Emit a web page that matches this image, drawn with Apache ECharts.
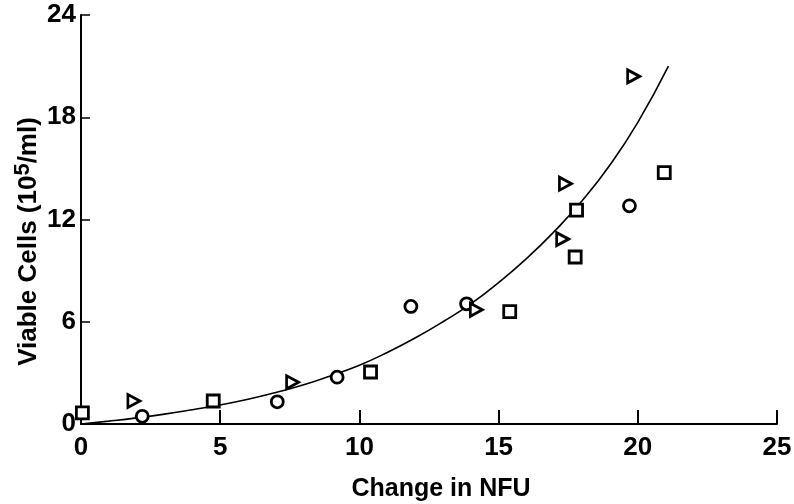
<!DOCTYPE html>
<html>
<head>
<meta charset="utf-8">
<script src="https://cdn.jsdelivr.net/npm/echarts@6/dist/echarts.min.js"></script>
<style>
  html, body { margin: 0; padding: 0; background: #fff; }
  #chart { width: 794px; height: 504px; }
</style>
</head>
<body>
<div id="chart"></div>
<script>
// Observations: three sample groups, viable cells vs change in NFU
const circleX = [2.2, 7.05, 9.2, 11.85, 13.85, 19.7];
const circleY = [0.45, 1.3, 2.75, 6.9, 7.05, 12.8];
const squareX = [0.05, 4.75, 10.4, 15.4, 17.75, 17.8, 20.95];
const squareY = [0.65, 1.35, 3.05, 6.6, 9.8, 12.55, 14.75];
const triX = [1.9, 7.6, 14.2, 17.3, 17.4, 19.85];
const triY = [1.35, 2.45, 6.7, 10.85, 14.1, 20.4];

// Fitted growth curve, read point by point
const fitX = [0, 1, 2, 3, 4, 5, 6, 7, 8, 9, 10, 11, 12, 13, 14, 15, 16, 17, 18, 19, 20, 21.1];
const fitY = [0, 0.17, 0.36, 0.58, 0.84, 1.12, 1.45, 1.85, 2.3, 2.85, 3.45, 4.2, 5.05, 6.0, 7.05, 8.3, 9.7, 11.3, 13.1, 15.2, 17.7, 21.0];

// Axis ticks
const xTicks = [0, 5, 10, 15, 20, 25];
const yTicks = [0, 6, 12, 18, 24];

const pair = (xs, ys) => xs.map((x, i) => [x, ys[i]]);
const FONT = '"Liberation Sans", Arial, sans-serif';

const markerStyle = { color: '#fff', borderColor: '#000', borderWidth: 2.8, opacity: 1 };

const chart = echarts.init(document.getElementById('chart'), null, { renderer: 'canvas' });
chart.setOption({
  backgroundColor: '#fff',
  animation: false,
  grid: { left: 81, right: 17, top: 15, bottom: 80, containLabel: false, outerBoundsMode: 'none' },
  xAxis: {
    type: 'value',
    min: xTicks[0], max: xTicks[xTicks.length - 1], interval: 5,
    name: 'Change in NFU',
    nameLocation: 'middle',
    nameGap: 53,
    nameTextStyle: { fontFamily: FONT, fontWeight: 'bold', fontSize: 25, color: '#000', padding: [0, 0, 0, 24] },
    axisLine: { lineStyle: { color: '#000', width: 2 } },
    axisTick: { inside: true, length: 14, lineStyle: { color: '#000', width: 2 } },
    axisLabel: { margin: 11, fontFamily: FONT, fontWeight: 'bold', fontSize: 26, color: '#000' },
    splitLine: { show: false }
  },
  yAxis: {
    type: 'value',
    min: yTicks[0], max: yTicks[yTicks.length - 1], interval: 6,
    name: 'Viable Cells (10{sup|5}/ml)',
    nameLocation: 'middle',
    nameMoveOverlap: false,
    nameGap: 35,
    nameRotate: 90,
    nameTextStyle: {
      fontFamily: FONT, fontWeight: 'bold', fontSize: 26, color: '#000',
      padding: [0, 44, 0, 0],
      rich: {
        sup: { fontFamily: FONT, fontWeight: 'bold', fontSize: 22, color: '#000', verticalAlign: 'bottom', padding: [0, 0, 12, 0] }
      }
    },
    axisLine: { lineStyle: { color: '#000', width: 2 } },
    axisTick: { inside: true, length: 9, lineStyle: { color: '#000', width: 1.5 } },
    axisLabel: { margin: 5, fontFamily: FONT, fontWeight: 'bold', fontSize: 26, color: '#000' },
    splitLine: { show: false }
  },
  series: [
    {
      type: 'line',
      data: pair(fitX, fitY),
      smooth: true,
      symbol: 'none',
      lineStyle: { color: '#000', width: 1.6 },
      z: 1
    },
    {
      type: 'scatter',
      data: pair(circleX, circleY),
      symbol: 'circle',
      symbolSize: 12,
      itemStyle: markerStyle,
      clip: false,
      z: 3
    },
    {
      type: 'scatter',
      data: pair(squareX, squareY),
      symbol: 'rect',
      symbolSize: 12,
      itemStyle: markerStyle,
      clip: false,
      z: 3
    },
    {
      type: 'scatter',
      data: pair(triX, triY),
      symbol: 'triangle',
      symbolRotate: -90,
      symbolSize: [13, 12],
      itemStyle: markerStyle,
      clip: false,
      z: 3
    }
  ]
});
</script>
</body>
</html>
